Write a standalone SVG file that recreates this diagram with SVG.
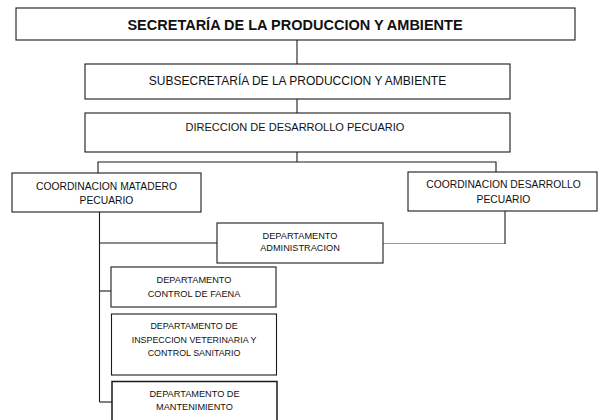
<svg xmlns="http://www.w3.org/2000/svg" width="600" height="420" viewBox="0 0 600 420">
<style>
  .box { fill: #ffffff; stroke: #1a1a1a; stroke-width: 1.1; }
  .ln { fill: none; stroke: #1a1a1a; stroke-width: 1.1; }
  .faint { fill: none; stroke: #9a9a9a; stroke-width: 1; }
  text { font-family: "Liberation Sans", Arial, sans-serif; fill: #111; text-anchor: middle; }
  .t1 { font-size: 14.5px; font-weight: bold; }
  .t2 { font-size: 12px; }
  .t3 { font-size: 11px; }
  .t4 { font-size: 10.3px; }
  .t5 { font-size: 9.2px; }
  .t6 { font-size: 8.9px; }
</style>
<rect width="600" height="420" fill="#ffffff"/>
<g id="connectors">
  <line class="ln" x1="297" y1="40" x2="297" y2="64"/>
  <line class="ln" x1="297" y1="99" x2="297" y2="113"/>
  <line class="ln" x1="297" y1="152" x2="297" y2="162"/>
  <polyline class="ln" points="98,173 98,162 496,162 496,172"/>
  <line class="ln" x1="99.5" y1="212" x2="99.5" y2="402"/>
  <line class="ln" x1="99.5" y1="243" x2="217" y2="243"/>
  <line class="ln" x1="99.5" y1="291" x2="111" y2="291"/>
  <line class="ln" x1="99.5" y1="402" x2="112" y2="402"/>
  <line class="faint" x1="383" y1="243.5" x2="505" y2="243.5"/>
  <line class="ln" x1="505" y1="211" x2="505" y2="244"/>
</g>
<g id="secretaria">
  <rect class="box" x="16" y="8" width="559" height="32"/>
  <text class="t1" x="295" y="29.5">SECRETARÍA DE LA PRODUCCION Y AMBIENTE</text>
</g>
<g id="subsecretaria">
  <rect class="box" x="85" y="64" width="425" height="35"/>
  <text class="t2" x="297.5" y="84.5">SUBSECRETARÍA DE LA PRODUCCION Y AMBIENTE</text>
</g>
<g id="direccion">
  <rect class="box" x="85" y="113" width="425" height="39"/>
  <text class="t3" x="295" y="130.5">DIRECCION DE DESARROLLO PECUARIO</text>
</g>
<g id="coord-matadero">
  <rect class="box" x="12" y="173" width="189" height="39"/>
  <text class="t4" x="106.5" y="190">COORDINACION MATADERO</text>
  <text class="t4" x="106.5" y="204">PECUARIO</text>
</g>
<g id="coord-desarrollo">
  <rect class="box" x="408" y="172" width="189" height="39"/>
  <text class="t4" x="503.5" y="187.5">COORDINACION DESARROLLO</text>
  <text class="t4" x="503.5" y="203">PECUARIO</text>
</g>
<g id="dep-administracion">
  <rect class="box" x="217" y="223" width="166" height="40"/>
  <text class="t5" x="300" y="239">DEPARTAMENTO</text>
  <text class="t5" x="300" y="250.5">ADMINISTRACION</text>
</g>
<g id="dep-control-faena">
  <rect class="box" x="111" y="267" width="165" height="40"/>
  <text class="t5" x="194" y="283">DEPARTAMENTO</text>
  <text class="t5" x="194" y="297">CONTROL DE FAENA</text>
</g>
<g id="dep-inspeccion">
  <rect class="box" x="111.5" y="314" width="165" height="61"/>
  <text class="t6" x="194" y="329">DEPARTAMENTO DE</text>
  <text class="t6" x="194" y="342.5">INSPECCION VETERINARIA Y</text>
  <text class="t6" x="194" y="356">CONTROL SANITARIO</text>
</g>
<g id="dep-mantenimiento">
  <rect class="box" x="112" y="381.5" width="165" height="45" style="stroke-width:1.5"/>
  <text class="t5" x="194.5" y="397">DEPARTAMENTO DE</text>
  <text class="t5" x="194.5" y="409.5">MANTENIMIENTO</text>
</g>
</svg>
